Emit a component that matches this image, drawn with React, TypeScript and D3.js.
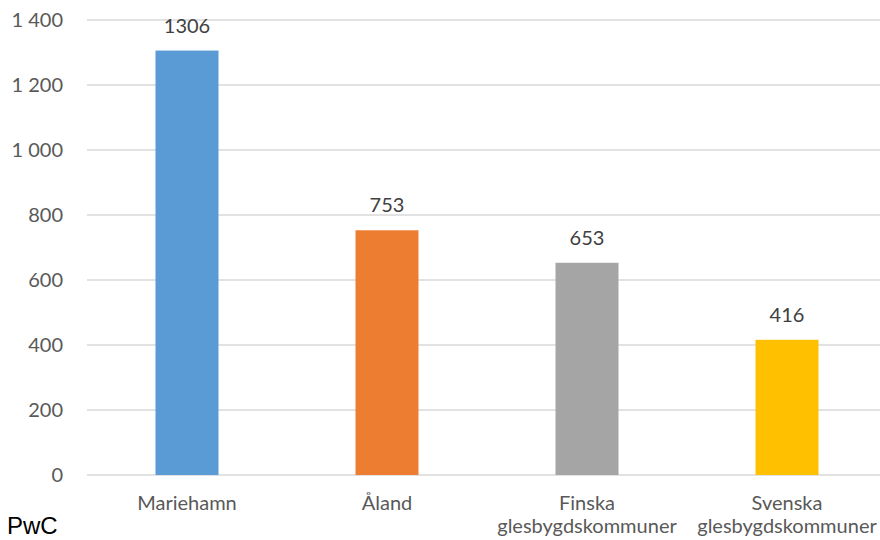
import React from "react";
import * as d3 from "d3";

const categories: string[][] = [
  ["Mariehamn"],
  ["Åland"],
  ["Finska", "glesbygdskommuner"],
  ["Svenska", "glesbygdskommuner"],
];
const values: number[] = [1306, 753, 653, 416];
const colors: string[] = ["#5B9BD5", "#ED7D31", "#A5A5A5", "#FFC000"];
const yTicks: number[] = [0, 200, 400, 600, 800, 1000, 1200, 1400];
const yTickLabels: string[] = ["0", "200", "400", "600", "800", "1 000", "1 200", "1 400"];
const source = "PwC";

const W = 880;
const H = 540;
const FONT = "Lato, 'Open Sans', sans-serif";

export default function App() {
  const x = d3
    .scaleBand<number>()
    .domain(categories.map((_, i) => i))
    .range([87, 887])
    .paddingInner(0.685)
    .paddingOuter(0.3425);
  const y = d3.scaleLinear().domain([0, 1400]).range([475, 20]);

  return (
    <svg width={W} height={H} style={{ position: "absolute", left: 0, top: 0, background: "#fff" }}>
      {yTicks.map((t, i) => (
        <g key={t}>
          <line x1={87} x2={887} y1={y(t)} y2={y(t)} stroke="#d9d9d9" strokeWidth={1.5} />
          <text
            x={63}
            y={y(t)}
            dy="0.35em"
            textAnchor="end"
            fontFamily={FONT}
            fontSize={20}
            fill="#595959"
          >
            {yTickLabels[i]}
          </text>
        </g>
      ))}
      {values.map((v, i) => {
        const bx = x(i)!;
        const cx = bx + x.bandwidth() / 2;
        return (
          <g key={i}>
            <rect x={bx} y={y(v)} width={x.bandwidth()} height={y(0) - y(v)} fill={colors[i]} />
            <text x={cx} y={y(v) - 18} textAnchor="middle" fontFamily={FONT} fontSize={20} fill="#404040">
              {v}
            </text>
            {categories[i].map((line, j) => (
              <text
                key={j}
                x={cx}
                y={510 + j * 23}
                textAnchor="middle"
                fontFamily={FONT}
                fontSize={20}
                fill="#595959"
              >
                {line}
              </text>
            ))}
          </g>
        );
      })}
      <text x={7} y={534} fontFamily="'Liberation Sans', Arial, sans-serif" fontSize={24} fill="#000">
        {source}
      </text>
    </svg>
  );
}
